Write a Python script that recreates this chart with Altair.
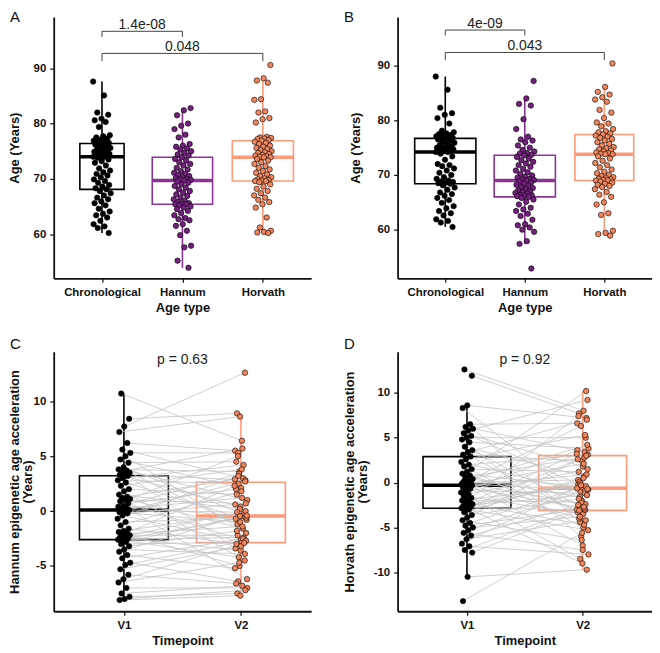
import altair as alt
import pandas as pd

FONT = "Liberation Sans"

age_types = ["Chronological", "Hannum", "Horvath"]
timepoints = ["V1", "V2"]

# ---------------- Panel A ----------------
a_chrono = [87.6, 85.1, 82.0, 81.6, 80.9, 80.6, 80.3, 79.4, 77.9, 77.7, 77.5, 77.3, 77.1, 76.9, 76.8, 76.6, 76.5, 76.4,
            76.2, 76.0, 75.8, 75.6, 75.5, 75.3, 75.1, 75.0, 74.9, 74.8, 74.6, 74.5, 74.4, 74.3, 74.2, 74.1, 74.0, 74.0,
            73.8, 73.5, 73.2, 72.9, 72.4, 71.9, 71.5, 71.2, 70.9, 70.6, 70.3, 69.9, 69.6, 69.3, 68.9, 68.6, 68.3, 68.1,
            67.8, 67.4, 67.0, 66.6, 66.3, 65.9, 65.6, 65.2, 64.6, 64.1, 63.7, 63.4, 63.0, 62.4, 61.8, 61.4, 61.1, 60.2]
a_hannum = [82.8, 82.4, 81.5, 80.0, 79.6, 79.0, 78.0, 77.5, 76.3, 76.0, 75.8, 75.5, 75.3, 75.0, 74.7, 74.4, 74.2, 73.9,
            73.6, 73.3, 73.0, 72.7, 72.4, 72.0, 71.7, 71.4, 71.1, 70.9, 70.7, 70.5, 70.3, 70.1, 70.0, 69.9, 69.8, 69.7,
            69.5, 69.3, 69.0, 68.7, 68.4, 68.1, 67.8, 67.5, 67.2, 66.9, 66.6, 66.3, 66.0, 65.8, 65.6, 65.5, 65.4, 65.4,
            65.2, 65.0, 64.8, 64.5, 64.2, 63.8, 63.4, 62.9, 62.7, 62.5, 61.8, 61.5, 60.6, 59.8, 57.9, 57.6, 55.2, 53.9]
a_horvath = [90.6, 88.2, 87.8, 87.4, 84.4, 84.3, 82.2, 82.0, 81.0, 80.8, 80.2, 77.6, 77.5, 77.4, 77.3, 77.2, 77.0, 76.9,
             76.7, 76.5, 76.3, 76.0, 75.8, 75.6, 75.4, 75.2, 75.0, 74.8, 74.7, 74.5, 74.3, 74.2, 74.1, 74.0, 73.9, 73.9,
             73.6, 73.3, 73.0, 72.7, 72.3, 72.0, 71.7, 71.4, 71.1, 70.8, 70.5, 70.3, 70.1, 69.9, 69.8, 69.7, 69.6, 69.6,
             69.4, 69.0, 68.6, 68.2, 67.8, 67.4, 67.0, 66.6, 66.2, 65.8, 65.4, 64.8, 63.0, 61.2, 60.6, 60.4, 60.3, 60.2]
a_q1 = [68.1, 65.4, 69.6]
a_med = [74.0, 69.7, 73.9]
a_q3 = [76.4, 73.9, 76.9]
a_lo = [60.2, 53.9, 60.2]
a_hi = [87.6, 82.8, 88.2]
a_sig_start = [1, 1]
a_sig_end = [2, 3]
a_sig_y = [96.7, 92.7]
a_sig_tip = [95.7, 91.3]
a_sig_label = ["1.4e-08", "0.048"]

# ---------------- Panel B ----------------
b_chrono = [88.0, 85.6, 82.3, 81.3, 81.0, 80.4, 79.4, 78.1, 77.8, 77.6, 77.5, 77.3, 77.2, 77.1, 77.0, 76.9, 76.8, 76.7,
            76.5, 76.3, 76.1, 75.9, 75.7, 75.5, 75.3, 75.1, 75.0, 74.9, 74.8, 74.7, 74.6, 74.5, 74.4, 74.3, 74.2, 74.2,
            73.9, 73.4, 72.8, 72.0, 71.8, 71.6, 71.2, 70.8, 70.4, 70.0, 69.6, 69.3, 69.0, 68.8, 68.7, 68.6, 68.5, 68.4,
            68.1, 67.7, 67.3, 66.8, 66.5, 66.2, 65.8, 65.4, 64.9, 64.3, 63.9, 63.4, 63.0, 62.6, 61.9, 61.6, 61.3, 60.5]
b_hannum = [87.2, 84.0, 83.0, 82.7, 80.2, 78.4, 77.0, 76.5, 76.3, 76.0, 75.4, 75.0, 74.6, 74.3, 74.0, 73.9, 73.7, 73.6,
            73.3, 73.0, 72.7, 72.4, 72.1, 71.8, 71.5, 71.1, 70.8, 70.5, 70.2, 69.9, 69.7, 69.5, 69.3, 69.2, 69.1, 69.0,
            68.8, 68.6, 68.4, 68.2, 68.0, 67.8, 67.6, 67.4, 67.2, 67.0, 66.9, 66.7, 66.6, 66.4, 66.3, 66.2, 66.1, 66.0,
            65.8, 65.5, 65.1, 64.6, 64.0, 63.7, 63.4, 62.9, 62.5, 61.8, 61.0, 60.8, 60.4, 60.0, 59.6, 57.9, 57.4, 52.9]
b_horvath = [90.4, 86.1, 85.2, 84.7, 84.2, 83.8, 83.4, 81.9, 81.4, 80.4, 79.6, 79.4, 78.9, 78.4, 78.0, 77.8, 77.6, 77.4,
             77.2, 77.0, 76.8, 76.6, 76.3, 76.0, 75.7, 75.4, 75.1, 74.9, 74.7, 74.5, 74.3, 74.1, 74.0, 73.9, 73.8, 73.8,
             73.4, 73.0, 72.6, 72.2, 71.8, 71.4, 71.0, 70.6, 70.3, 70.0, 69.8, 69.6, 69.4, 69.3, 69.2, 69.1, 69.0, 69.0,
             68.8, 68.6, 68.4, 68.2, 68.0, 67.8, 67.4, 66.9, 66.4, 66.0, 65.0, 64.6, 63.0, 62.7, 59.8, 59.4, 59.2, 58.9]
b_q1 = [68.4, 66.0, 69.0]
b_med = [74.2, 69.0, 73.8]
b_q3 = [76.7, 73.6, 77.4]
b_lo = [60.5, 57.4, 58.9]
b_hi = [88.0, 84.0, 86.1]
b_sig_start = [1, 1]
b_sig_end = [2, 3]
b_sig_y = [96.5, 92.4]
b_sig_tip = [95.5, 91.0]
b_sig_label = ["4e-09", "0.043"]

# ---------------- Panel C (Hannum acceleration, paired) ----------------
c_v1 = [10.7, 8.4, 7.7, 7.2, 6.2, 5.6, 5.3, 5.0, 4.7, 4.4, 4.0, 3.8, 3.7, 3.6, 3.5, 3.4, 3.3, 3.2,
        3.0, 2.8, 2.6, 2.3, 2.0, 1.8, 1.5, 1.3, 1.2, 1.1, 1.0, 0.9, 0.7, 0.5, 0.4, 0.3, 0.2, 0.1,
        0.0, -0.1, -0.2, -0.4, -0.7, -1.0, -1.3, -1.6, -1.8, -1.9, -2.0, -2.1, -2.2, -2.3, -2.4, -2.5, -2.6, -2.6,
        -2.8, -3.0, -3.2, -3.5, -3.7, -4.0, -4.3, -4.7, -4.9, -5.3, -5.8, -6.2, -6.5, -7.0, -7.5, -7.8, -8.0, -8.1]
c_v2 = [6.4, 8.9, 12.6, 8.6, 5.5, 3.0, 5.3, -2.0, 2.1, 4.5, -0.3, 3.6, 1.0, 5.7, -1.2, 2.8, 0.4, -3.4,
        4.2, 2.5, -0.8, 3.8, 1.5, -4.5, 0.2, 2.9, -1.6, 5.0, 0.7, -2.6, 2.0, -0.5, 3.4, -6.2, 1.2, -0.1,
        2.7, -1.0, 0.6, -2.8, 3.2, -0.6, 1.8, -3.0, -0.2, -5.0, 2.3, -1.4, -2.2, 0.0, -3.6, -0.7, -2.4, -4.2,
        -0.4, -2.85, -1.8, -3.9, -0.45, -5.2, -2.5, -6.4, -2.7, -3.2, -6.6, -2.9, -4.7, -7.0, -6.8, -7.5, -7.2, -7.7]
c_q1 = [-2.6, -2.87]
c_med = [0.1, -0.45]
c_q3 = [3.22, 2.63]
c_lo = [-8.1, -7.7]
c_hi = [10.7, 8.9]
c_p_label = ["p = 0.63"]
c_p_y = [13.8]

# ---------------- Panel D (Horvath acceleration, paired) ----------------
d_v1 = [12.6, 11.9, 8.6, 8.3, 6.5, 6.2, 6.0, 5.8, 5.5, 5.2, 5.0, 4.8, 4.5, 4.0, 3.6, 3.4, 3.1, 2.9,
        2.6, 2.3, 2.0, 1.8, 1.5, 1.2, 1.0, 0.8, 0.6, 0.4, 0.2, 0.1, 0.0, -0.1, -0.15, -0.2, -0.25, -0.3,
        -0.4, -0.5, -0.7, -0.9, -1.1, -1.3, -1.5, -1.7, -1.9, -2.0, -2.2, -2.3, -2.4, -2.5, -2.6, -2.7, -2.8, -2.85,
        -3.0, -3.3, -3.6, -3.9, -4.2, -4.5, -4.8, -5.0, -5.3, -5.6, -5.9, -6.3, -6.8, -7.1, -7.5, -7.8, -10.5, -13.2]
d_v2 = [8.0, 7.7, 7.2, -2.0, 6.6, 3.4, -4.4, 9.2, 1.8, -0.2, 5.0, -6.0, 3.8, 0.7, -2.6, 7.0, 2.4, -3.3,
        5.3, -1.0, 3.1, -5.0, 1.2, 10.2, -0.5, -3.0, 2.8, -1.6, 4.2, -7.0, 0.3, -2.4, 6.3, -0.8, 2.1, -4.0,
        0.9, -2.8, 3.6, -1.2, -8.5, 1.5, -3.5, 7.4, -0.4, -2.2, 3.2, -4.7, 0.1, -1.4, -9.0, 2.6, -3.05, -0.1,
        -5.3, 0.5, -1.8, 3.0, -6.4, -0.63, -2.9, -3.8, -0.7, -7.5, -2.5, -4.2, -0.3, -8.0, -2.7, -3.1, -9.7, -5.6]
d_q1 = [-2.85, -3.1]
d_med = [-0.3, -0.63]
d_q3 = [2.89, 3.0]
d_lo = [-10.5, -9.7]
d_hi = [8.6, 10.2]
d_p_label = ["p = 0.92"]
d_p_y = [13.6]

# ---------------- styles ----------------
POINT_FILL_3 = ["#000000", "#74207E", "#F2855C"]
BOX_COL_3 = ["#000000", "#8A3595", "#FF9A78"]
POINT_FILL_2 = ["#000000", "#F2855C"]
BOX_COL_2 = ["#000000", "#FF9A78"]
TXT = "#222222"


def y_axis(values, title, title_x):
    return alt.Axis(values=values, title=title, titleX=title_x, labelExpr="'' + datum.value",
                    titleLineHeight=13)


def x_axis(cats, title):
    arr = "[" + ",".join("'" + c + "'" for c in cats) + "]"
    return alt.Axis(values=list(range(1, len(cats) + 1)), title=title,
                    labelExpr=arr + "[datum.value - 1]")


def box_layers(box_df, xs, ys, xa, ya, cats, cols):
    col = alt.Color("type:N", scale=alt.Scale(domain=cats, range=cols), legend=None)
    stroke = alt.Stroke("type:N", scale=alt.Scale(domain=cats, range=cols), legend=None)
    base = alt.Chart(box_df).transform_calculate(
        xmin="datum.pos - datum.w / 2", xmax="datum.pos + datum.w / 2")
    rect = base.mark_rect(fillOpacity=0, strokeWidth=1.6).encode(
        x=alt.X("xmin:Q", scale=xs, axis=xa), x2="xmax:Q",
        y=alt.Y("q1:Q", scale=ys, axis=ya), y2="q3:Q", stroke=stroke)
    med = base.mark_rule(strokeWidth=3.6).encode(
        x=alt.X("xmin:Q", scale=xs, axis=xa), x2="xmax:Q",
        y=alt.Y("med:Q", scale=ys, axis=ya), color=col)
    wh_hi = base.mark_rule(strokeWidth=1.6).encode(
        x=alt.X("pos:Q", scale=xs, axis=xa), y=alt.Y("q3:Q", scale=ys, axis=ya), y2="hi:Q", color=col)
    wh_lo = base.mark_rule(strokeWidth=1.6).encode(
        x=alt.X("pos:Q", scale=xs, axis=xa), y=alt.Y("lo:Q", scale=ys, axis=ya), y2="q1:Q", color=col)
    return [wh_hi, wh_lo, rect, med]


def panel_label(text, lx, ly):
    return alt.Chart(pd.DataFrame({"t": [text]})).mark_text(
        align="left", baseline="top", font=FONT, fontSize=15, color="#111").encode(
        x=alt.value(lx), y=alt.value(ly), text="t:N")


def box_df_from(cats, q1, med, q3, lo, hi, widths):
    return pd.DataFrame({"type": cats, "pos": list(range(1, len(cats) + 1)), "q1": q1, "med": med,
                         "q3": q3, "lo": lo, "hi": hi, "w": widths})


def group_panel(groups, q1, med, q3, lo, hi, widths, ydom, yvals, title_x, width, height,
                sig_start, sig_end, sig_y, sig_tip, sig_label, label, lx, jit):
    xs = alt.Scale(domain=[0.4, 3.6], nice=False, zero=False)
    ys = alt.Scale(domain=ydom, nice=False, zero=False)
    xa = x_axis(age_types, "Age type")
    ya = y_axis(yvals, "Age (Years)", title_x)
    rows = []
    for gi, (name, vals) in enumerate(zip(age_types, groups)):
        for k, v in enumerate(vals):
            rows.append({"type": name, "grp": gi + 1, "value": v, "k": k + gi * 131})
    pts_df = pd.DataFrame(rows)
    bdf = box_df_from(age_types, q1, med, q3, lo, hi, widths)
    layers = box_layers(bdf, xs, ys, xa, ya, age_types, BOX_COL_3)
    pts = alt.Chart(pts_df).transform_calculate(
        xj=f"datum.grp + (((datum.k * 0.6180339887) % 1) - 0.5) * {2 * jit}").mark_circle(
        size=30, stroke="#000000", strokeWidth=0.6, opacity=1).encode(
        x=alt.X("xj:Q", scale=xs, axis=xa), y=alt.Y("value:Q", scale=ys, axis=ya),
        fill=alt.Fill("type:N", scale=alt.Scale(domain=age_types, range=POINT_FILL_3), legend=None))
    sig_df = pd.DataFrame({"s": sig_start, "e": sig_end, "y": sig_y, "tip": sig_tip, "lab": sig_label})
    sb = alt.Chart(sig_df)
    hline = sb.mark_rule(color="#444444", strokeWidth=1).encode(
        x=alt.X("s:Q", scale=xs, axis=xa), x2="e:Q", y=alt.Y("y:Q", scale=ys, axis=ya))
    t1 = sb.mark_rule(color="#444444", strokeWidth=1).encode(
        x=alt.X("s:Q", scale=xs, axis=xa), y=alt.Y("tip:Q", scale=ys, axis=ya), y2="y:Q")
    t2 = sb.mark_rule(color="#444444", strokeWidth=1).encode(
        x=alt.X("e:Q", scale=xs, axis=xa), y=alt.Y("tip:Q", scale=ys, axis=ya), y2="y:Q")
    stxt = sb.transform_calculate(mid="(datum.s + datum.e) / 2").mark_text(
        font=FONT, fontSize=14, color=TXT, baseline="alphabetic", dy=-2).encode(
        x=alt.X("mid:Q", scale=xs, axis=xa), y=alt.Y("y:Q", scale=ys, axis=ya), text="lab:N")
    return alt.layer(*layers, pts, hline, t1, t2, stxt, panel_label(label, lx, -7)).properties(
        width=width, height=height)


def paired_panel(v1, v2, q1, med, q3, lo, hi, ydom, yvals, ytitle, title_x, width, height,
                 p_label, p_y, label, lx, ly, jit):
    xs = alt.Scale(domain=[0.4, 2.6], nice=False, zero=False)
    ys = alt.Scale(domain=ydom, nice=False, zero=False)
    xa = x_axis(timepoints, "Timepoint")
    ya = y_axis(yvals, ytitle, title_x)
    rows = []
    for i, (a, b) in enumerate(zip(v1, v2)):
        rows.append({"id": i, "t": 1, "type": "V1", "value": a})
        rows.append({"id": i, "t": 2, "type": "V2", "value": b})
    long_df = pd.DataFrame(rows)
    bdf = box_df_from(timepoints, q1, med, q3, lo, hi, [0.76, 0.76])
    layers = box_layers(bdf, xs, ys, xa, ya, timepoints, BOX_COL_2)
    base = alt.Chart(long_df).transform_calculate(
        xj=f"datum.t + (((datum.id * 0.6180339887 + datum.t * 0.29) % 1) - 0.5) * {2 * jit}")
    lines = base.mark_line(color="#C4C4C4", strokeWidth=0.8).encode(
        x=alt.X("xj:Q", scale=xs, axis=xa), y=alt.Y("value:Q", scale=ys, axis=ya), detail="id:N")
    pts = base.mark_circle(size=30, stroke="#000000", strokeWidth=0.6, opacity=1).encode(
        x=alt.X("xj:Q", scale=xs, axis=xa), y=alt.Y("value:Q", scale=ys, axis=ya),
        fill=alt.Fill("type:N", scale=alt.Scale(domain=timepoints, range=POINT_FILL_2), legend=None))
    ptxt = alt.Chart(pd.DataFrame({"lab": p_label, "y": p_y, "x": [1.5]})).mark_text(
        font=FONT, fontSize=14, color=TXT, baseline="middle").encode(
        x=alt.X("x:Q", scale=xs, axis=xa), y=alt.Y("y:Q", scale=ys, axis=ya), text="lab:N")
    return alt.layer(*layers, lines, pts, ptxt, panel_label(label, lx, ly)).properties(
        width=width, height=height)


pa = group_panel([a_chrono, a_hannum, a_horvath], a_q1, a_med, a_q3, a_lo, a_hi, [0.55, 0.75, 0.76],
                 [52.0, 99.3], [60, 70, 80, 90], -32, 259, 263,
                 a_sig_start, a_sig_end, a_sig_y, a_sig_tip, a_sig_label, "A", -44, 0.11)
pb = group_panel([b_chrono, b_hannum, b_horvath], b_q1, b_med, b_q3, b_lo, b_hi, [0.77, 0.77, 0.74],
                 [51.1, 98.9], [60, 70, 80, 90], -35, 256, 263,
                 b_sig_start, b_sig_end, b_sig_y, b_sig_tip, b_sig_label, "B", -54, 0.12)
pc = paired_panel(c_v1, c_v2, c_q1, c_med, c_q3, c_lo, c_hi, [-9.12, 14.5], [-5, 0, 5, 10],
                  ["Hannum epigenetic age acceleration", "(Years)"], -32, 259, 261,
                  c_p_label, c_p_y, "C", -44, -15, 0.055)
pdd = paired_panel(d_v1, d_v2, d_q1, d_med, d_q3, d_lo, d_hi, [-14.33, 14.56], [-10, -5, 0, 5, 10],
                   ["Horvath epigenetic age acceleration", "(Years)"], -41, 256, 261,
                   d_p_label, d_p_y, "D", -54, -15, 0.052)

chart = alt.concat(pa, pb, pc, pdd, columns=2, spacing={"row": 74, "column": 87},
                   bounds="flush").resolve_scale(
    color="independent", fill="independent", stroke="independent").properties(
    padding=0).configure_view(stroke=None).configure_axis(
    labelFont=FONT, titleFont=FONT, labelFontSize=11.5, labelFontWeight="bold", titleFontSize=13,
    titleFontWeight="bold", labelColor="#111111", titleColor="#111111", domainColor="#111111",
    domainWidth=1.8, tickColor="#111111", tickWidth=1.2, tickSize=4, labelPadding=4, grid=False)

chart.save("out.html", embed_options={"renderer": "svg", "actions": False})
